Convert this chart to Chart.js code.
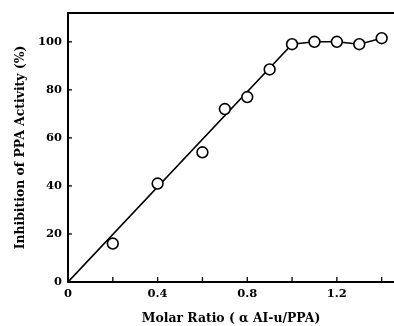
<!DOCTYPE html>
<html><head><meta charset="utf-8">
<script src="https://cdn.jsdelivr.net/npm/chart.js@4"></script>
<style>html,body{margin:0;padding:0;background:#fff}#c{display:block}</style>
</head><body>
<canvas id="c" width="394" height="326"></canvas>
<script>
const molarRatio = [0.2, 0.4, 0.6, 0.7, 0.8, 0.9, 1.0, 1.1, 1.2, 1.3, 1.4];
const inhibition = [16, 41, 54, 72, 77, 88.5, 99, 100, 100, 99, 101.5];
const fitX = [0, 1.0, 1.1, 1.2, 1.3, 1.4];
const fitY = [0, 99, 100, 100, 99, 101.5];
const xTickLabels = ['0', '0.4', '0.8', '1.2'];
const yTickLabels = ['0', '20', '40', '60', '80', '100'];

const tickFont = {family: '"DejaVu Serif", "Liberation Serif", serif', weight: 'bold', size: 11.5};
const titleFont = {family: '"DejaVu Serif", "Liberation Serif", serif', weight: 'bold', size: 12.4};

const frame = {
  id: 'frame',
  afterDraw(chart) {
    const {ctx, chartArea: a, scales: {x, y}} = chart;
    ctx.save();
    ctx.strokeStyle = '#000';
    ctx.lineWidth = 2;
    ctx.beginPath();
    ctx.moveTo(a.left, a.top);
    ctx.lineTo(a.right, a.top);
    ctx.stroke();
    ctx.lineWidth = 1.3;
    x.ticks.forEach(t => {
      if (t.value === 0) return;
      const px = x.getPixelForValue(t.value);
      ctx.beginPath();
      ctx.moveTo(px, a.bottom);
      ctx.lineTo(px, a.bottom - 5);
      ctx.stroke();
    });
    y.ticks.forEach(t => {
      if (t.value === 0) return;
      const py = y.getPixelForValue(t.value);
      ctx.beginPath();
      ctx.moveTo(a.left, py);
      ctx.lineTo(a.left + 4, py);
      ctx.stroke();
    });
    ctx.restore();
  }
};

new Chart(document.getElementById('c'), {
  type: 'scatter',
  data: {
    datasets: [
      {
        type: 'line',
        data: fitX.map((v, i) => ({x: v, y: fitY[i]})),
        borderColor: '#000', borderWidth: 1.6, pointRadius: 0, fill: false, tension: 0, order: 2
      },
      {
        data: molarRatio.map((v, i) => ({x: v, y: inhibition[i]})),
        pointRadius: 5.4, pointBorderWidth: 1.6, pointBorderColor: '#000', pointBackgroundColor: '#fff', order: 1
      }
    ]
  },
  options: {
    responsive: false, animation: false,
    layout: {autoPadding: false, padding: {top: 13, right: 0, left: 0, bottom: 0}},
    plugins: {legend: {display: false}, tooltip: {enabled: false}},
    scales: {
      x: {
        type: 'linear', min: 0, max: 1.455,
        afterFit(s) { s.height = 44; s.paddingLeft = 0; s.paddingRight = 0; },
        border: {display: true, color: '#000', width: 2},
        grid: {display: true, drawOnChartArea: false, drawTicks: false},
        ticks: {
          stepSize: 0.2, includeBounds: false, color: '#000', font: tickFont, padding: 5, maxRotation: 0, autoSkip: false,
          callback(v) { const s = (Math.round(v * 10) / 10).toString(); return xTickLabels.includes(s) ? s : ''; }
        },
        title: {display: true, text: 'Molar Ratio ( α AI-u/PPA)', color: '#000', font: titleFont, padding: {top: 6, bottom: 0}}
      },
      y: {
        min: 0, max: 112,
        afterFit(s) { s.width = 68; s.paddingTop = 0; s.paddingBottom = 0; },
        border: {display: true, color: '#000', width: 2},
        grid: {display: true, drawOnChartArea: false, drawTicks: false},
        ticks: {
          stepSize: 20, includeBounds: false, color: '#000', font: tickFont, padding: 6,
          callback(v) { const s = String(v); return yTickLabels.includes(s) ? s : ''; }
        },
        title: {display: true, text: 'Inhibition of PPA Activity (%)', color: '#000', font: titleFont, padding: {top: 13, bottom: 4}}
      }
    }
  },
  plugins: [frame]
});
</script>
</body></html>
